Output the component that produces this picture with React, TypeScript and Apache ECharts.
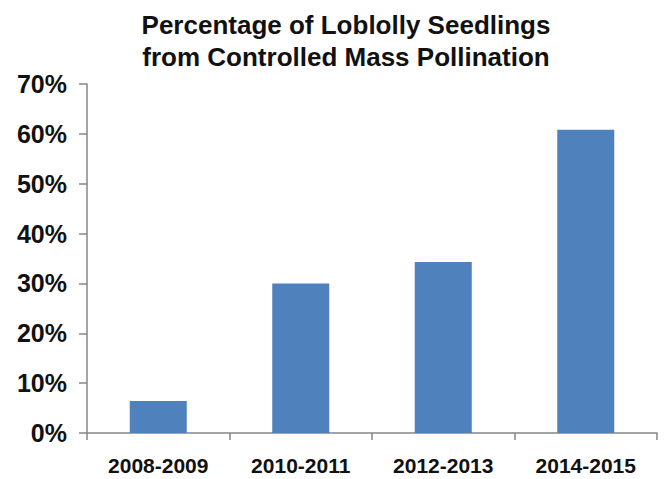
import React, { useEffect, useRef } from "react";
import * as echarts from "echarts";

const categories = ["2008-2009", "2010-2011", "2012-2013", "2014-2015"];
const values = [6.4, 30, 34.3, 60.8];
const titleLines = ["Percentage of Loblolly Seedlings", "from Controlled Mass Pollination"];

export default function App() {
  const ref = useRef<HTMLDivElement>(null);
  useEffect(() => {
    if (!ref.current) return;
    const chart = echarts.init(ref.current, null, { renderer: "svg" });
    chart.setOption({
      animation: false,
      backgroundColor: "#ffffff",
      title: {
        text: titleLines.join("\n"),
        left: 341,
        textAlign: "center",
        top: 4,
        textStyle: {
          fontFamily: "Liberation Sans, Arial, sans-serif",
          fontWeight: "bold",
          fontSize: 26,
          lineHeight: 32,
          color: "#111",
        },
      },
      grid: { left: 87, right: 7, top: 84, bottom: 46, containLabel: false },
      xAxis: {
        type: "category",
        data: categories,
        axisLine: { lineStyle: { color: "#868686", width: 1.5 } },
        axisTick: { show: true, alignWithLabel: false, length: 7, lineStyle: { color: "#868686", width: 1.5 } },
        axisLabel: {
          margin: 22,
          fontFamily: "Liberation Sans, Arial, sans-serif",
          fontWeight: "bold",
          fontSize: 21,
          color: "#111",
        },
      },
      yAxis: {
        type: "value",
        min: 0,
        max: 70,
        interval: 10,
        splitLine: { show: false },
        axisLine: { show: true, lineStyle: { color: "#868686", width: 1.5 } },
        axisTick: { show: true, length: 8, lineStyle: { color: "#868686", width: 1.5 } },
        axisLabel: {
          margin: 20,
          formatter: "{value}%",
          fontFamily: "Liberation Sans, Arial, sans-serif",
          fontWeight: "bold",
          fontSize: 25,
          color: "#111",
        },
      },
      series: [
        {
          type: "bar",
          data: values,
          barWidth: "40%",
          itemStyle: { color: "#4f81bd" },
        },
      ],
    });
    return () => chart.dispose();
  }, []);
  return (
    <div
      ref={ref}
      style={{ position: "fixed", left: 0, top: 0, width: 664, height: 479 }}
    />
  );
}
